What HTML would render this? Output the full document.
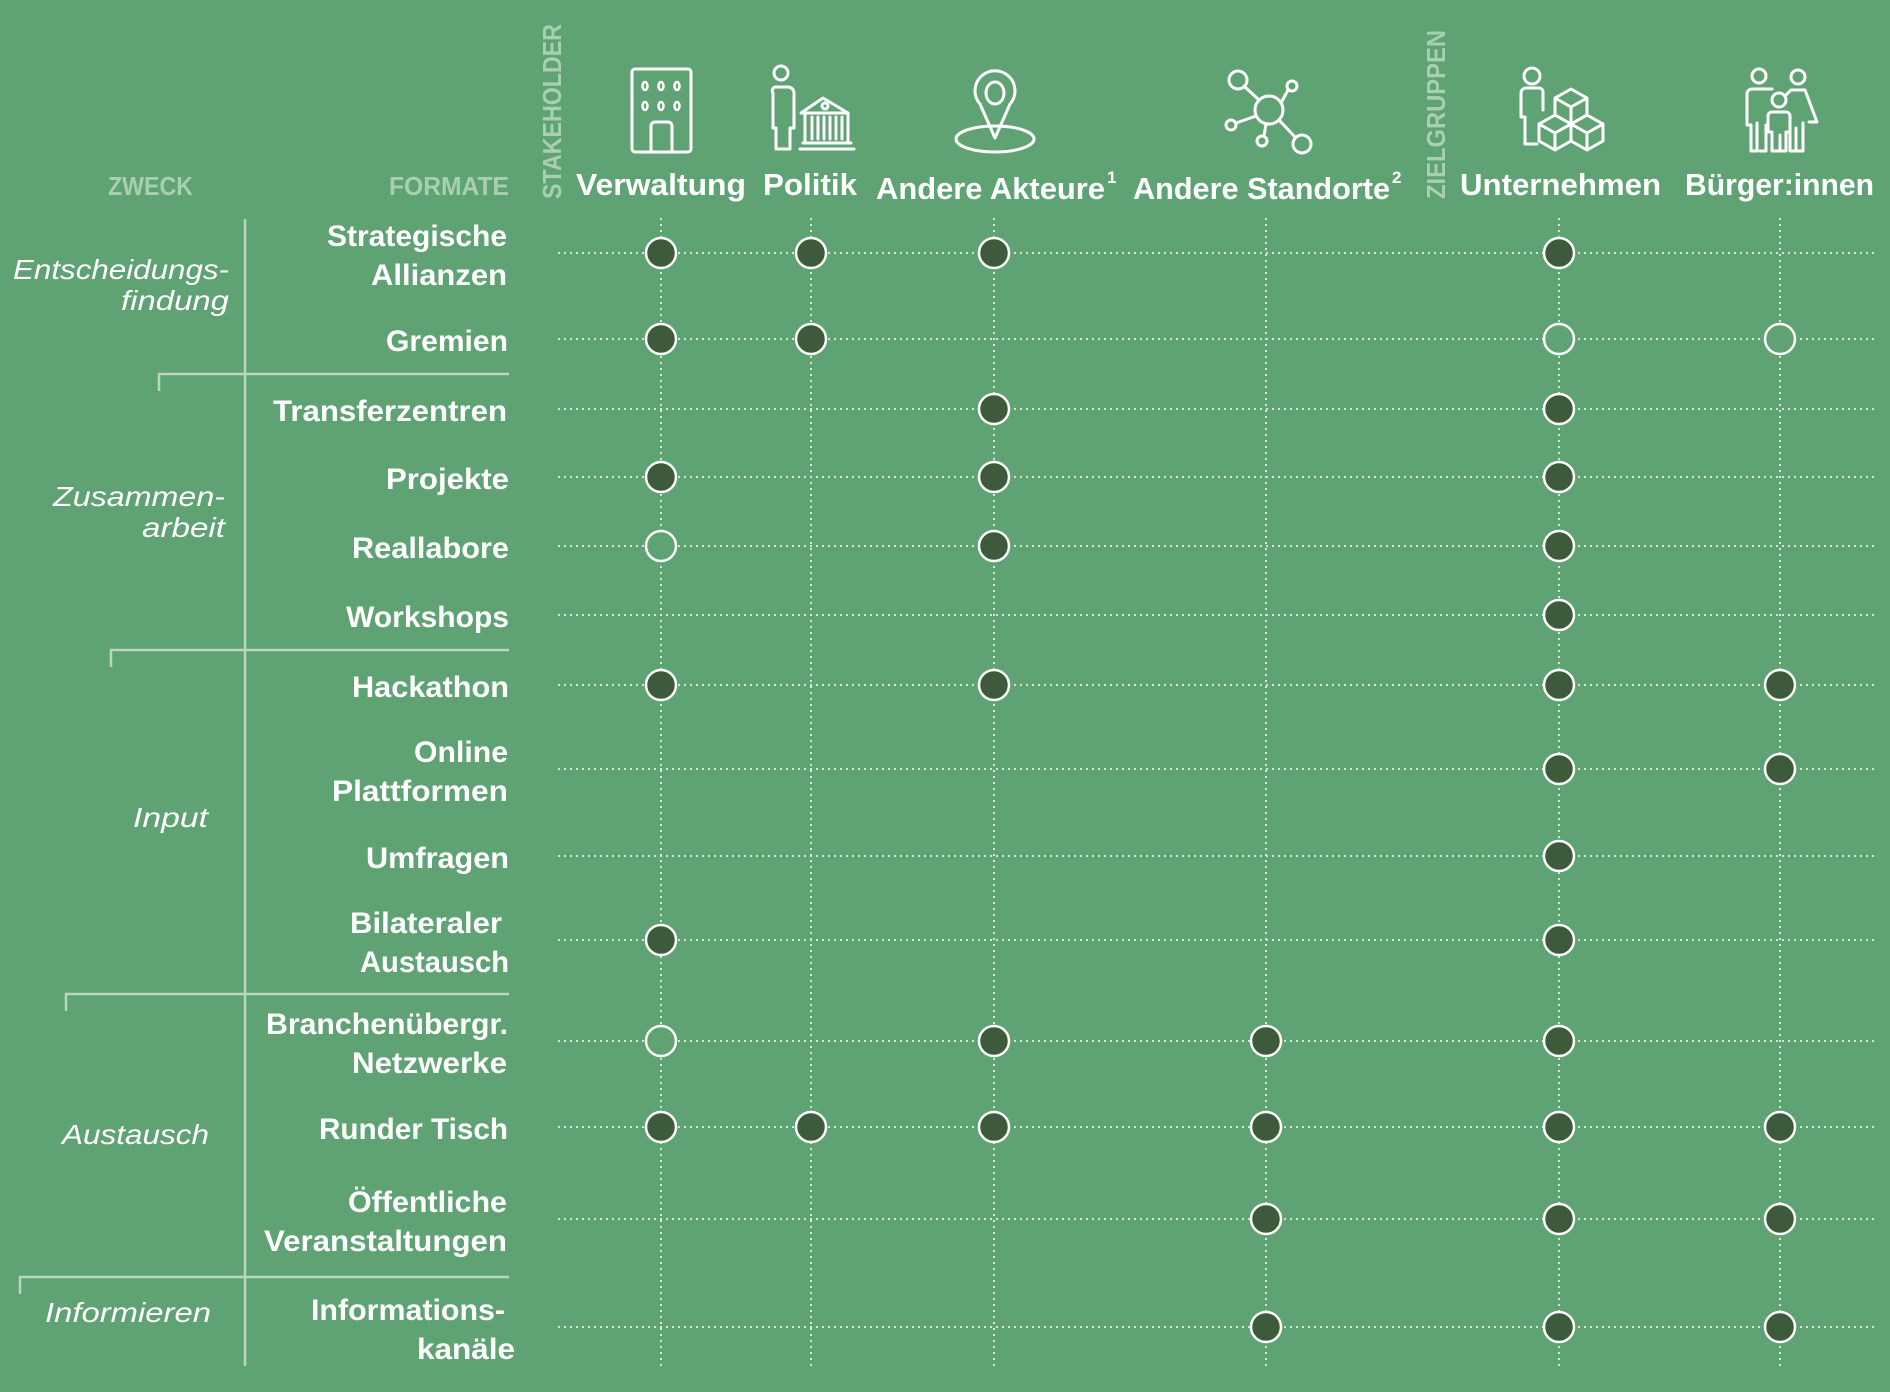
<!DOCTYPE html>
<html><head><meta charset="utf-8"><style>
html,body{margin:0;padding:0;background:#5fa273;}
svg{display:block;}
</style></head><body>
<svg width="1890" height="1392" viewBox="0 0 1890 1392" xmlns="http://www.w3.org/2000/svg" font-family="Liberation Sans, sans-serif">
<rect width="1890" height="1392" fill="#5fa273"/>
<!-- grid -->
<g stroke="#d3e6d6" stroke-width="2" stroke-dasharray="2 4" fill="none">
<line x1="558" y1="253" x2="1876" y2="253"/>
<line x1="558" y1="339" x2="1876" y2="339"/>
<line x1="558" y1="409" x2="1876" y2="409"/>
<line x1="558" y1="477" x2="1876" y2="477"/>
<line x1="558" y1="546" x2="1876" y2="546"/>
<line x1="558" y1="615" x2="1876" y2="615"/>
<line x1="558" y1="685" x2="1876" y2="685"/>
<line x1="558" y1="769" x2="1876" y2="769"/>
<line x1="558" y1="856" x2="1876" y2="856"/>
<line x1="558" y1="940" x2="1876" y2="940"/>
<line x1="558" y1="1041" x2="1876" y2="1041"/>
<line x1="558" y1="1127" x2="1876" y2="1127"/>
<line x1="558" y1="1219" x2="1876" y2="1219"/>
<line x1="558" y1="1327" x2="1876" y2="1327"/>
<line x1="661" y1="218" x2="661" y2="1366"/>
<line x1="811" y1="218" x2="811" y2="1366"/>
<line x1="994" y1="218" x2="994" y2="1366"/>
<line x1="1266" y1="218" x2="1266" y2="1366"/>
<line x1="1559" y1="218" x2="1559" y2="1366"/>
<line x1="1780" y1="218" x2="1780" y2="1366"/>
</g>
<!-- bracket lines -->
<g stroke="#b9d6bf" stroke-width="2.5" fill="none">
<line x1="245" y1="219" x2="245" y2="1366"/>
<polyline points="159,391 159,374 509,374"/>
<polyline points="111,667 111,650 509,650"/>
<polyline points="66,1011 66,994 509,994"/>
<polyline points="20,1294 20,1277 509,1277"/>
</g>
<!-- dots -->
<g stroke="#fff" stroke-width="2.5" fill="#3d5a3b">
<circle cx="661" cy="253" r="15"/><circle cx="811" cy="253" r="15"/><circle cx="994" cy="253" r="15"/><circle cx="1559" cy="253" r="15"/>
<circle cx="661" cy="339" r="15"/><circle cx="811" cy="339" r="15"/><circle cx="1559" cy="339" r="15" fill="#5fa273"/><circle cx="1780" cy="339" r="15" fill="#5fa273"/>
<circle cx="994" cy="409" r="15"/><circle cx="1559" cy="409" r="15"/>
<circle cx="661" cy="477" r="15"/><circle cx="994" cy="477" r="15"/><circle cx="1559" cy="477" r="15"/>
<circle cx="661" cy="546" r="15" fill="#5fa273"/><circle cx="994" cy="546" r="15"/><circle cx="1559" cy="546" r="15"/>
<circle cx="1559" cy="615" r="15"/>
<circle cx="661" cy="685" r="15"/><circle cx="994" cy="685" r="15"/><circle cx="1559" cy="685" r="15"/><circle cx="1780" cy="685" r="15"/>
<circle cx="1559" cy="769" r="15"/><circle cx="1780" cy="769" r="15"/>
<circle cx="1559" cy="856" r="15"/>
<circle cx="661" cy="940" r="15"/><circle cx="1559" cy="940" r="15"/>
<circle cx="661" cy="1041" r="15" fill="#5fa273"/><circle cx="994" cy="1041" r="15"/><circle cx="1266" cy="1041" r="15"/><circle cx="1559" cy="1041" r="15"/>
<circle cx="661" cy="1127" r="15"/><circle cx="811" cy="1127" r="15"/><circle cx="994" cy="1127" r="15"/><circle cx="1266" cy="1127" r="15"/><circle cx="1559" cy="1127" r="15"/><circle cx="1780" cy="1127" r="15"/>
<circle cx="1266" cy="1219" r="15"/><circle cx="1559" cy="1219" r="15"/><circle cx="1780" cy="1219" r="15"/>
<circle cx="1266" cy="1327" r="15"/><circle cx="1559" cy="1327" r="15"/><circle cx="1780" cy="1327" r="15"/>
</g>
<!-- header small labels -->
<g fill="#a9cfb2" font-weight="bold" font-size="26">
<text x="108" y="195" textLength="85" lengthAdjust="spacingAndGlyphs">ZWECK</text>
<text x="389" y="195" textLength="120" lengthAdjust="spacingAndGlyphs">FORMATE</text>
<text transform="translate(561,199) rotate(-90)" textLength="175" lengthAdjust="spacingAndGlyphs">STAKEHOLDER</text>
<text transform="translate(1445,199) rotate(-90)" textLength="169" lengthAdjust="spacingAndGlyphs">ZIELGRUPPEN</text>
</g>
<!-- column headers -->
<g fill="#fff" font-weight="bold" font-size="31">
<text x="576" y="195" textLength="170" lengthAdjust="spacingAndGlyphs">Verwaltung</text>
<text x="763" y="195" textLength="94" lengthAdjust="spacingAndGlyphs">Politik</text>
<text x="876" y="199" textLength="229" lengthAdjust="spacingAndGlyphs">Andere Akteure</text>
<text x="1107" y="183" font-size="17">1</text>
<text x="1133" y="199" textLength="257" lengthAdjust="spacingAndGlyphs">Andere Standorte</text>
<text x="1392" y="183" font-size="17">2</text>
<text x="1460" y="195" textLength="201" lengthAdjust="spacingAndGlyphs">Unternehmen</text>
<text x="1685" y="195" textLength="189" lengthAdjust="spacingAndGlyphs">Bürger:innen</text>
</g>
<!-- format labels -->
<g fill="#fff" font-weight="bold" font-size="30" text-anchor="end">
<text x="507" y="246" textLength="180" lengthAdjust="spacingAndGlyphs">Strategische</text>
<text x="507" y="285" textLength="136" lengthAdjust="spacingAndGlyphs">Allianzen</text>
<text x="508" y="351" textLength="122" lengthAdjust="spacingAndGlyphs">Gremien</text>
<text x="507" y="421" textLength="234" lengthAdjust="spacingAndGlyphs">Transferzentren</text>
<text x="509" y="489" textLength="123" lengthAdjust="spacingAndGlyphs">Projekte</text>
<text x="509" y="558" textLength="157" lengthAdjust="spacingAndGlyphs">Reallabore</text>
<text x="509" y="627" textLength="163" lengthAdjust="spacingAndGlyphs">Workshops</text>
<text x="509" y="697" textLength="157" lengthAdjust="spacingAndGlyphs">Hackathon</text>
<text x="508" y="762" textLength="94" lengthAdjust="spacingAndGlyphs">Online</text>
<text x="508" y="801" textLength="176" lengthAdjust="spacingAndGlyphs">Plattformen</text>
<text x="509" y="868" textLength="143" lengthAdjust="spacingAndGlyphs">Umfragen</text>
<text x="502" y="933" textLength="152" lengthAdjust="spacingAndGlyphs">Bilateraler</text>
<text x="509" y="972" textLength="149" lengthAdjust="spacingAndGlyphs">Austausch</text>
<text x="508" y="1034" textLength="242" lengthAdjust="spacingAndGlyphs">Branchenübergr.</text>
<text x="507" y="1073" textLength="155" lengthAdjust="spacingAndGlyphs">Netzwerke</text>
<text x="508" y="1139" textLength="189" lengthAdjust="spacingAndGlyphs">Runder Tisch</text>
<text x="507" y="1212" textLength="159" lengthAdjust="spacingAndGlyphs">Öffentliche</text>
<text x="507" y="1251" textLength="243" lengthAdjust="spacingAndGlyphs">Veranstaltungen</text>
<text x="505" y="1320" textLength="194" lengthAdjust="spacingAndGlyphs">Informations-</text>
<text x="515" y="1359" textLength="98" lengthAdjust="spacingAndGlyphs">kanäle</text>
</g>
<!-- purpose labels -->
<g fill="#fff" font-style="italic" font-size="28" text-anchor="end">
<text x="229" y="279" textLength="216" lengthAdjust="spacingAndGlyphs">Entscheidungs-</text>
<text x="229" y="310" textLength="108" lengthAdjust="spacingAndGlyphs">findung</text>
<text x="225" y="506" textLength="172" lengthAdjust="spacingAndGlyphs">Zusammen-</text>
<text x="225" y="537" textLength="83" lengthAdjust="spacingAndGlyphs">arbeit</text>
<text x="208" y="827" textLength="75" lengthAdjust="spacingAndGlyphs">Input</text>
<text x="209" y="1144" textLength="147" lengthAdjust="spacingAndGlyphs">Austausch</text>
<text x="211" y="1322" textLength="166" lengthAdjust="spacingAndGlyphs">Informieren</text>
</g>
<!-- icons -->
<g stroke="#fff" stroke-width="3" fill="none" stroke-linecap="round" stroke-linejoin="round">
<!-- building -->
<rect x="632" y="69" width="59" height="83" rx="3"/>
<path d="M651 152 V126 a4 4 0 0 1 4-4 h13 a4 4 0 0 1 4 4 V152"/>
<g stroke-width="2.5">
<ellipse cx="645" cy="86" rx="2.5" ry="4"/><ellipse cx="661" cy="86" rx="2.5" ry="4"/><ellipse cx="677" cy="86" rx="2.5" ry="4"/>
<ellipse cx="645" cy="106" rx="2.5" ry="4"/><ellipse cx="661" cy="106" rx="2.5" ry="4"/><ellipse cx="677" cy="106" rx="2.5" ry="4"/>
</g>
<!-- politik -->
<circle cx="781" cy="73" r="7"/>
<path d="M775 87 h13 a6 6 0 0 1 6 6 V128 h-4 V149 h-14 V128 h-3 V93 a4 4 0 0 1 2-6z"/>
<path d="M801 113 L823 98 L848 113 Z M805 113 V143 M848 113 V143 M812 117 V139 M818 117 V139 M824 117 V139 M830 117 V139 M836 117 V139 M842 117 V139 M803 143 H851 M800 149 H854"/>
<circle cx="825" cy="106" r="3"/>
<!-- pin -->
<path d="M995 138 L980 104 A20 20 0 1 1 1010 104 Z"/>
<ellipse cx="995" cy="93" rx="9" ry="11"/>
<ellipse cx="995" cy="139" rx="39" ry="13"/>
<!-- network -->
<circle cx="1269" cy="110" r="14"/>
<circle cx="1238" cy="80" r="9"/><circle cx="1302" cy="144" r="9"/>
<circle cx="1292" cy="86" r="5"/><circle cx="1231" cy="125" r="5"/><circle cx="1262" cy="141" r="5"/>
<path d="M1245 87 L1259 100 M1279 120 L1295 137 M1281 103 L1288 90 M1256 116 L1236 123 M1266 124 L1264 136"/>
<!-- unternehmen -->
<circle cx="1532" cy="76" r="8"/>
<path d="M1526 88 h13 a4 4 0 0 1 4 4 V110 M1526 88 a5 5 0 0 0-5 5 V117 h4 V144 h12"/>
<path d="M1571 89 l16 9 v17 l-16 9 l-16 -9 v-17 z M1555 98 l16 9 l16 -9 M1571 107 v17"/>
<path d="M1555 115 l16 9 v17 l-16 9 l-16 -9 v-17 z M1539 124 l16 9 l16 -9 M1555 133 v17"/>
<path d="M1587 115 l16 9 v17 l-16 9 l-16 -9 v-17 z M1571 124 l16 9 l16 -9 M1587 133 v17"/>
<!-- family -->
<circle cx="1759" cy="76" r="7"/><circle cx="1798" cy="77" r="7"/>
<path d="M1752 89 h20 M1752 89 a5 5 0 0 0-5 5 V125 h4 V151 h6 V123 M1766 125 V151 h-6"/>
<path d="M1791 90 h14 l12 32 h-8 M1791 90 l-6 6 M1790 123 V151 h6 V128 M1803 123 V151 h-5"/>
<circle cx="1779" cy="100" r="7"/>
<path d="M1772 112 h14 a4 4 0 0 1 4 4 V132 h-4 V151 h-6 V135 M1772 112 a4 4 0 0 0-4 4 V132 h4 V151 h6"/>
</g>
</svg>
</body></html>
